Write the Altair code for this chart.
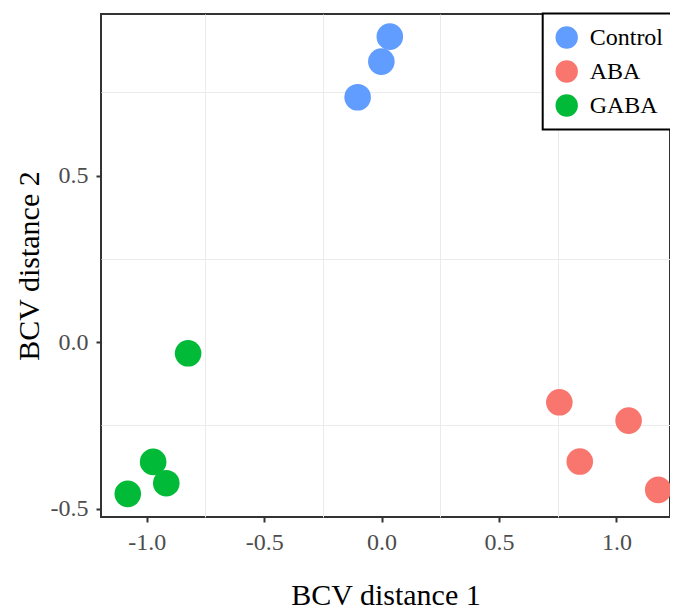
import altair as alt
import pandas as pd

groups = ["Control", "ABA", "GABA"]
colors = ["#619CFF", "#F8766D", "#00BA38"]

control_x = [0.035, -0.001, -0.102]
control_y = [0.917, 0.842, 0.735]
aba_x = [0.757, 1.052, 0.844, 1.178]
aba_y = [-0.181, -0.236, -0.359, -0.444]
gaba_x = [-0.824, -0.973, -0.917, -1.081]
gaba_y = [-0.034, -0.360, -0.424, -0.456]

major_x = [-1.0, -0.5, 0.0, 0.5, 1.0]
minor_x = [-0.75, -0.25, 0.25, 0.75]
major_y = [-0.5, 0.0, 0.5]
minor_y = [-0.25, 0.25, 0.75]

rows = []
for g, xs, ys in [("Control", control_x, control_y), ("ABA", aba_x, aba_y), ("GABA", gaba_x, gaba_y)]:
    for a, b in zip(xs, ys):
        rows.append({"x": a, "y": b, "group": g})
df = pd.DataFrame(rows)

FONT = "Liberation Serif"
xscale = alt.Scale(domain=[-1.195, 1.2283], nice=False, zero=False)
yscale = alt.Scale(domain=[-0.5255, 0.985], nice=False, zero=False)
lab = "replace(format(datum.value, '.1f'), '\u2212', '-')"

base = alt.Chart(df)

minor = base.mark_circle(opacity=0).encode(
    x=alt.X("x:Q", scale=xscale, axis=alt.Axis(values=minor_x, orient="top", labels=False, ticks=False,
                                                 domain=False, title="", gridWidth=1, gridColor="#EBEBEB")),
    y=alt.Y("y:Q", scale=yscale, axis=alt.Axis(values=minor_y, orient="right", labels=False, ticks=False,
                                                 domain=False, title="", gridWidth=1, gridColor="#EBEBEB")),
)

points = base.mark_circle(size=707, opacity=1).encode(
    x=alt.X("x:Q", scale=xscale, axis=alt.Axis(values=major_x, orient="bottom", title="BCV distance 1",
                                                 labelExpr=lab, gridWidth=2, gridColor="#EBEBEB",
                                                 labelPadding=8, titleY=87, titleBaseline="alphabetic")),
    y=alt.Y("y:Q", scale=yscale, axis=alt.Axis(values=major_y, orient="left", title="BCV distance 2",
                                                 labelExpr=lab, gridWidth=2, gridColor="#EBEBEB",
                                                 labelPadding=8, titleX=-63, titleBaseline="alphabetic")),
    color=alt.Color("group:N", scale=alt.Scale(domain=groups, range=colors),
                    legend=alt.Legend(title=None, orient="none", legendX=441.7, legendY=-0.5,
                                      strokeColor="black", fillColor="white", padding=12,
                                      symbolType="circle", symbolSize=500, symbolOpacity=1,
                                      symbolStrokeWidth=0, labelFontSize=24, labelFont=FONT,
                                      labelColor="black", labelOffset=11, rowPadding=10)),
)

chart = alt.layer(minor, points).resolve_axis(x="independent", y="independent").properties(
    width=569, height=503, autosize="none", background="white",
    padding={"left": 93, "top": 6, "right": 0, "bottom": 92},
).configure_view(stroke="#333333", strokeWidth=2).configure_axis(
    tickColor="#333333", tickWidth=2, tickSize=5, domain=False,
    labelColor="#4D4D4D", labelFont=FONT, labelFontSize=24,
    titleColor="black", titleFont=FONT, titleFontSize=30, titleFontWeight="normal",
).configure_legend(strokeWidth=2)

chart.save("out.html", embed_options={"renderer": "svg", "actions": False})
